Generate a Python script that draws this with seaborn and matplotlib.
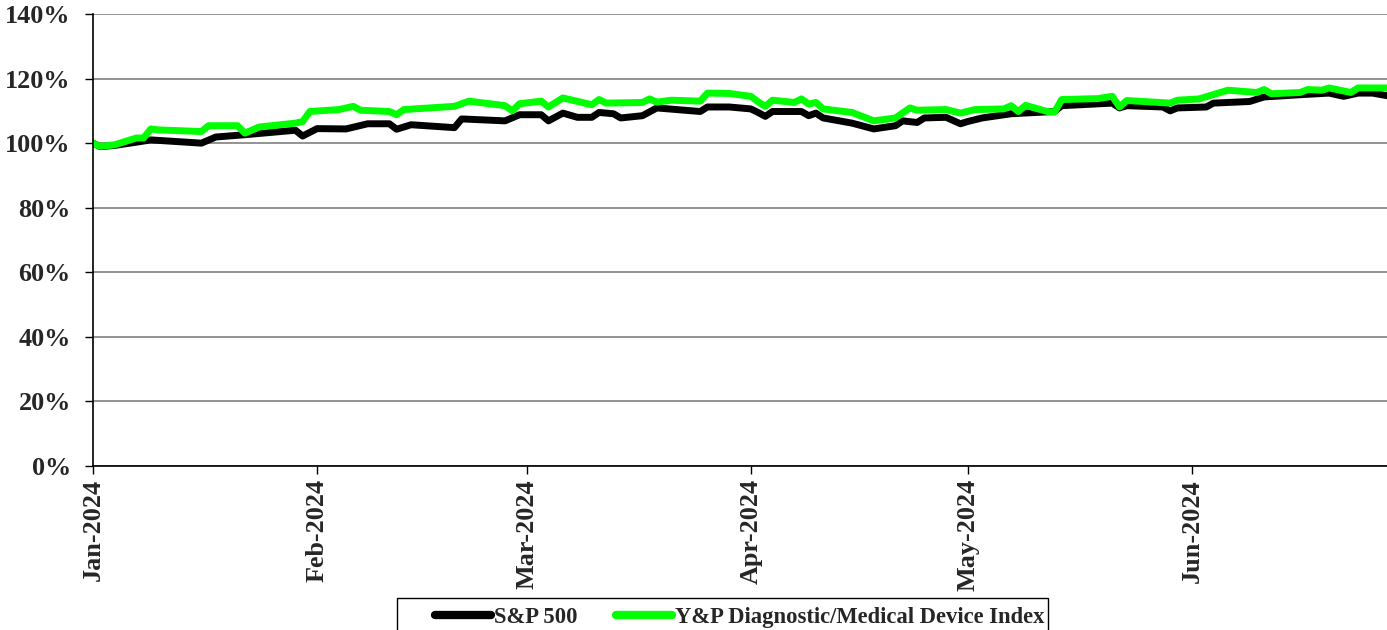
import matplotlib
matplotlib.use("Agg")
import matplotlib.pyplot as plt
import matplotlib.dates as mdates
from matplotlib.patches import Rectangle
from matplotlib.ticker import PercentFormatter, MultipleLocator
import pandas as pd
import seaborn as sns

sp_dates = [
    "2024-01-01", "2024-01-02", "2024-01-04", "2024-01-07", "2024-01-09", "2024-01-16",
    "2024-01-18", "2024-01-22", "2024-01-29", "2024-01-30", "2024-02-01", "2024-02-05",
    "2024-02-08", "2024-02-11", "2024-02-12", "2024-02-14", "2024-02-20", "2024-02-21",
    "2024-02-27", "2024-02-29", "2024-03-03", "2024-03-04", "2024-03-06", "2024-03-08",
    "2024-03-10", "2024-03-11", "2024-03-13", "2024-03-14", "2024-03-17", "2024-03-19",
    "2024-03-25", "2024-03-26", "2024-03-29", "2024-04-01", "2024-04-02", "2024-04-03",
    "2024-04-04", "2024-04-08", "2024-04-09", "2024-04-10", "2024-04-11", "2024-04-15",
    "2024-04-18", "2024-04-21", "2024-04-22", "2024-04-24", "2024-04-25", "2024-04-28",
    "2024-04-30", "2024-05-01", "2024-05-03", "2024-05-07", "2024-05-13", "2024-05-14",
    "2024-05-21", "2024-05-22", "2024-05-23", "2024-05-28", "2024-05-29", "2024-05-30",
    "2024-06-03", "2024-06-04", "2024-06-09", "2024-06-11", "2024-06-16", "2024-06-20",
    "2024-06-22", "2024-06-24", "2024-06-26", "2024-06-28",
]
sp_values = [
    100.0, 98.9, 99.3, 100.3, 101.0, 100.0,
    101.9, 102.6, 104.0, 102.2, 104.5, 104.4,
    106.0, 106.0, 104.3, 105.7, 104.8, 107.5,
    106.9, 108.8, 108.8, 106.9, 109.3, 108.0,
    108.0, 109.5, 109.1, 107.8, 108.5, 110.9,
    109.8, 111.2, 111.2, 110.6, 109.5, 108.3,
    109.8, 109.8, 108.5, 109.3, 107.8, 106.2,
    104.4, 105.4, 106.9, 106.4, 107.8, 108.0,
    106.0, 106.7, 107.8, 109.1, 109.8, 111.6,
    112.4, 110.9, 111.6, 111.2, 110.0, 110.9,
    111.2, 112.4, 112.9, 114.3, 115.0, 115.5,
    114.5, 115.5, 115.5, 114.7,
]

yp_dates = [
    "2024-01-01", "2024-01-02", "2024-01-04", "2024-01-07", "2024-01-08", "2024-01-09",
    "2024-01-10", "2024-01-16", "2024-01-17", "2024-01-21", "2024-01-22", "2024-01-24",
    "2024-01-29", "2024-01-30", "2024-01-31", "2024-02-04", "2024-02-06", "2024-02-07",
    "2024-02-11", "2024-02-12", "2024-02-13", "2024-02-20", "2024-02-22", "2024-02-26",
    "2024-02-27", "2024-02-28", "2024-02-29", "2024-03-03", "2024-03-04", "2024-03-06",
    "2024-03-10", "2024-03-11", "2024-03-12", "2024-03-17", "2024-03-18", "2024-03-19",
    "2024-03-21", "2024-03-25", "2024-03-26", "2024-03-29", "2024-04-01", "2024-04-02",
    "2024-04-03", "2024-04-04", "2024-04-07", "2024-04-08", "2024-04-09", "2024-04-10",
    "2024-04-11", "2024-04-15", "2024-04-18", "2024-04-21", "2024-04-23", "2024-04-24",
    "2024-04-28", "2024-04-30", "2024-05-02", "2024-05-06", "2024-05-07", "2024-05-08",
    "2024-05-09", "2024-05-12", "2024-05-13", "2024-05-14", "2024-05-19", "2024-05-21",
    "2024-05-22", "2024-05-23", "2024-05-29", "2024-05-30", "2024-06-02", "2024-06-06",
    "2024-06-10", "2024-06-11", "2024-06-12", "2024-06-16", "2024-06-17", "2024-06-19",
    "2024-06-20", "2024-06-23", "2024-06-24", "2024-06-28",
]
yp_values = [
    100.0, 99.0, 99.5, 101.6, 101.6, 104.4,
    104.1, 103.6, 105.4, 105.4, 103.1, 105.0,
    106.2, 106.7, 109.8, 110.4, 111.4, 110.2,
    109.8, 108.8, 110.4, 111.4, 113.0, 111.9,
    111.6, 110.0, 112.2, 113.0, 111.2, 114.0,
    111.9, 113.5, 112.4, 112.6, 113.7, 112.7,
    113.3, 113.0, 115.5, 115.4, 114.5, 112.8,
    111.4, 113.3, 112.6, 113.7, 112.1, 112.6,
    110.6, 109.5, 106.9, 107.8, 110.9, 110.2,
    110.4, 109.3, 110.4, 110.6, 111.6, 109.8,
    111.7, 109.8, 109.6, 113.5, 113.8, 114.5,
    111.2, 113.2, 112.4, 113.3, 113.7, 116.4,
    115.7, 116.6, 115.3, 115.7, 116.6, 116.4,
    117.1, 115.7, 117.1, 117.1,
]

series_names = ["S&P 500", "Y&P Diagnostic/Medical Device Index"]
series_colors = ["#000000", "#00FF00"]

sns.set_style("white")
plt.rcParams["font.family"] = ["Liberation Serif", "DejaVu Serif"]
plt.rcParams["font.weight"] = "bold"

sp = pd.DataFrame({"date": pd.to_datetime(sp_dates), "value": sp_values})
yp = pd.DataFrame({"date": pd.to_datetime(yp_dates), "value": yp_values})

W, H = 1387, 630
fig = plt.figure(figsize=(W / 100, H / 100), dpi=100)
ax = fig.add_axes([93 / W, 1 - 466 / H, 1 - 93 / W, (466 - 14) / H])

sns.lineplot(data=sp, x="date", y="value", color=series_colors[0], linewidth=5,
             label=series_names[0], ax=ax, legend=False)
sns.lineplot(data=yp, x="date", y="value", color=series_colors[1], linewidth=5,
             label=series_names[1], ax=ax, legend=False)

ax.set_ylim(0, 140)
ax.set_xlim(pd.Timestamp("2024-01-01"), pd.Timestamp("2024-06-28"))
ax.yaxis.set_major_locator(MultipleLocator(20))
ax.yaxis.set_major_formatter(PercentFormatter(decimals=0))
ax.xaxis.set_major_locator(mdates.MonthLocator())
ax.xaxis.set_major_formatter(mdates.DateFormatter("%b-%Y"))
ax.grid(axis="y", color="#808080", linewidth=1.2)
ax.set_axisbelow(True)
ax.set_xlabel("")
ax.set_ylabel("")

for side in ["top", "right"]:
    ax.spines[side].set_visible(False)
for side in ["left", "bottom"]:
    ax.spines[side].set_color("black")
    ax.spines[side].set_linewidth(1.2)

ax.tick_params(axis="both", direction="out", length=6, width=1, color="black",
               labelsize=18.8, left=True, bottom=True)
ax.tick_params(axis="y", pad=10)
for lbl in ax.get_xticklabels():
    lbl.set_rotation(90)
    lbl.set_fontweight("bold")
for lbl in ax.get_yticklabels():
    lbl.set_fontweight("bold")

# legend box (frame drawn separately to get Excel-like uneven padding)
fig.patches.append(Rectangle((397 / W, -0.02), (1048 - 397) / W, 0.02 + (630 - 598) / H,
                             transform=fig.transFigure, fill=False, edgecolor="black",
                             linewidth=1.0))

handles, labels = ax.get_legend_handles_labels()
leg = fig.legend(handles, labels, loc="upper left", bbox_to_anchor=(430 / W, 1 - 602 / H),
                 ncol=2, frameon=False, prop={"size": 16.3, "weight": "bold"},
                 handlelength=2.5, handletextpad=0.13, columnspacing=1.68,
                 borderpad=0.2, borderaxespad=0)
for line in leg.get_lines():
    line.set_linewidth(6)

fig.savefig("out.png", dpi=100)
